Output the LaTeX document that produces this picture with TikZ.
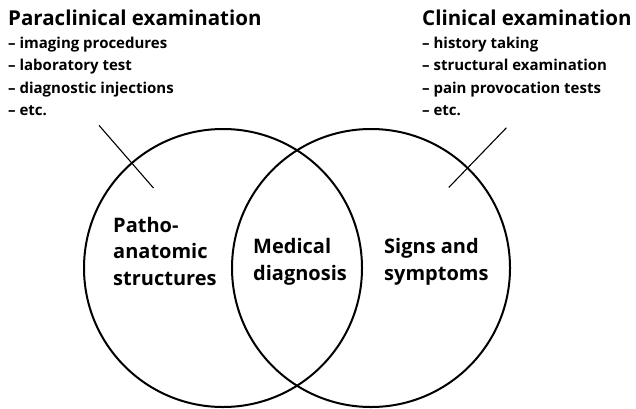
\documentclass[tikz,border=0pt]{standalone}
\usepackage{fontspec}
\setmainfont{Open Sans}
\usepackage{tikz}
\usetikzlibrary{positioning}

\begin{document}
\begin{tikzpicture}[x=1pt, y=1pt,
    ring/.style={draw, circle, line width=2pt, minimum size=278pt, inner sep=0pt},
    tick/.style={line width=1.1pt},
    block/.style={anchor=base west, inner sep=0pt, align=left,
        font=\bfseries\fontsize{15}{22.5}\selectfont},
    label/.style={anchor=base west, inner sep=0pt, align=left,
        font=\bfseries\fontsize{20}{26.5}\selectfont}]
    \useasboundingbox (0,0) rectangle (636,408);

    % the two examinations
    \node[block] (paraclin) at (8,292.5) {{\fontsize{20.5}{22.5}\selectfont Paraclinical examination}\\
        – imaging procedures\\ – laboratory test\\ – diagnostic injections\\ – etc.};
    \node[block] (clin) at (422,292.5) {{\fontsize{20.5}{22.5}\selectfont Clinical examination}\\
        – history taking\\ – structural examination\\ – pain provocation tests\\ – etc.};

    % circles
    \node[ring] (patho) at (223,140) {};
    \node[ring] (signs) at (371,140) {};

    % ticks across the circles
    \draw[tick] ([shift={(131:106)}]patho.center) -- ([shift={(131:189)}]patho.center);
    \draw[tick] ([shift={(46:112)}]signs.center) -- ([shift={(46:195)}]signs.center);

    % labels
    \node[label] (pathotext) at (113,123) {Patho-\\ anatomic\\ structures};
    \node[label] (diagnosis) at (253,128) {Medical\\ diagnosis};
    \node[label] (symptoms) at (384,128) {Signs and\\ symptoms};
\end{tikzpicture}
\end{document}
